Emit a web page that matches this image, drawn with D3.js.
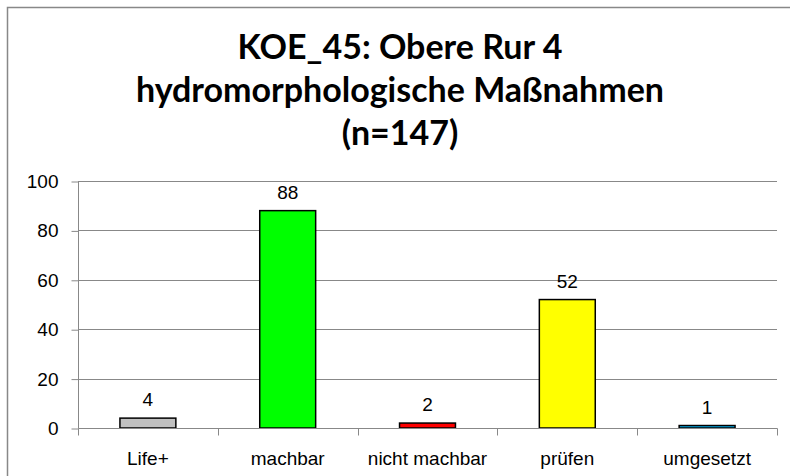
<!DOCTYPE html>
<html>
<head>
<meta charset="utf-8">
<script src="https://cdn.jsdelivr.net/npm/d3@7"></script>
<style>
  html, body { margin: 0; padding: 0; background: #fff; }
  svg { display: block; }
</style>
</head>
<body>
<div class="container"></div>
<script>
const categories = ["Life+", "machbar", "nicht machbar", "prüfen", "umgesetzt"];
const values = [4, 88, 2, 52, 1];
const barColors = ["#c0c0c0", "#00ff00", "#ff0000", "#ffff00", "#00b0f0"];
const yTicks = [0, 20, 40, 60, 80, 100];
const titleLines = ["KOE_45: Obere Rur 4", "hydromorphologische Maßnahmen", "(n=147)"];

const W = 790, H = 476;
const plot = { left: 78, right: 777, top: 181, bottom: 428 };
const labelFont = "Arial, 'Liberation Sans', sans-serif";

const svg = d3.select(".container").append("svg")
    .attr("width", W)
    .attr("height", H);

// Rahmen
svg.append("rect")
    .attr("x", 7.5).attr("y", 7.5)
    .attr("width", W).attr("height", H)
    .attr("fill", "none")
    .attr("stroke", "#888")
    .attr("stroke-width", 1.5);

// Titel
svg.append("g").selectAll("text")
    .data(titleLines)
    .enter().append("text")
    .attr("x", 400)
    .attr("y", (d, i) => 59 + i * 43)
    .attr("text-anchor", "middle")
    .style("font-family", "Lato, 'Open Sans', sans-serif")
    .style("font-weight", "bold")
    .style("font-size", "34px")
    .text(d => d);

const x = d3.scaleBand()
    .domain(categories)
    .range([plot.left, plot.right])
    .paddingInner(0.6)
    .paddingOuter(0.3);

const xBound = d3.scaleLinear()
    .domain([0, categories.length])
    .range([plot.left, plot.right]);

const y = d3.scaleLinear()
    .domain([0, 100])
    .range([plot.bottom, plot.top]);

// Gitterlinien
svg.append("g").selectAll("line")
    .data(yTicks.filter(d => d > 0))
    .enter().append("line")
    .attr("x1", plot.left).attr("x2", plot.right)
    .attr("y1", d => Math.round(y(d)) + 0.5)
    .attr("y2", d => Math.round(y(d)) + 0.5)
    .attr("stroke", "#888");

// Y-Achse
const yAxis = d3.axisLeft(y).tickValues(yTicks).tickSize(7).tickPadding(13);
svg.append("g")
    .attr("transform", `translate(${plot.left + 0.5}, 0.5)`)
    .call(yAxis)
    .call(g => g.selectAll("path, line").attr("stroke", "#888"))
    .call(g => g.select(".domain").attr("d", `M0,${plot.bottom}V${plot.top}`))
    .call(g => g.selectAll("text")
        .style("font-family", labelFont)
        .style("font-size", "19px")
        .attr("fill", "#000"));

// Balken
svg.append("g").selectAll("rect")
    .data(values)
    .enter().append("rect")
    .attr("x", (d, i) => x(categories[i]))
    .attr("y", d => y(d))
    .attr("width", x.bandwidth())
    .attr("height", d => y(0) - y(d))
    .attr("fill", (d, i) => barColors[i])
    .attr("stroke", "#000")
    .attr("stroke-width", 1.5);

// X-Achse
const xg = svg.append("g").attr("transform", "translate(0.5, 0.5)");
xg.append("line")
    .attr("x1", plot.left).attr("x2", plot.right)
    .attr("y1", plot.bottom).attr("y2", plot.bottom)
    .attr("stroke", "#888");
xg.selectAll(".tick")
    .data(d3.range(categories.length + 1))
    .enter().append("line")
    .attr("x1", d => Math.round(xBound(d)))
    .attr("x2", d => Math.round(xBound(d)))
    .attr("y1", plot.bottom)
    .attr("y2", plot.bottom + 7)
    .attr("stroke", "#888");

svg.append("g").selectAll("text")
    .data(categories)
    .enter().append("text")
    .attr("x", d => x(d) + x.bandwidth() / 2)
    .attr("y", 465)
    .attr("text-anchor", "middle")
    .style("font-family", labelFont)
    .style("font-size", "19px")
    .text(d => d);

// Werte
svg.append("g").selectAll("text")
    .data(values)
    .enter().append("text")
    .attr("x", (d, i) => x(categories[i]) + x.bandwidth() / 2)
    .attr("y", d => y(d) - 12)
    .attr("text-anchor", "middle")
    .style("font-family", labelFont)
    .style("font-size", "19px")
    .text(d => d);
</script>
</body>
</html>
